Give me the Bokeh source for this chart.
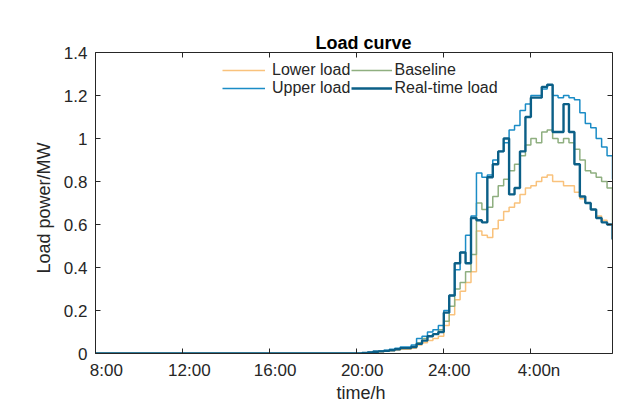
import numpy as np
from bokeh.plotting import figure
from bokeh.models import FixedTicker, LinearAxis, Legend, LegendItem, Range1d, Title
from bokeh.embed import file_html
from bokeh.resources import INLINE

# time in hours (15-minute samples starting 8:00)
hours = 8 + 0.25 * np.arange(96)

zeros48 = [0.0] * 48
lower_load = zeros48 + [
    0.0, 0.002, 0.004, 0.006, 0.008, 0.01, 0.013, 0.016,
    0.02, 0.02, 0.025, 0.04, 0.05, 0.06, 0.07, 0.08,
    0.13, 0.18, 0.25, 0.29, 0.33, 0.38, 0.57, 0.55,
    0.54, 0.58, 0.62, 0.66, 0.68, 0.70, 0.74, 0.77,
    0.78, 0.80, 0.82, 0.83, 0.80, 0.80, 0.78, 0.78,
    0.75, 0.72, 0.70, 0.67, 0.64, 0.62, 0.60, 0.53]
baseline = zeros48 + [
    0.0, 0.002, 0.005, 0.007, 0.01, 0.012, 0.016, 0.02,
    0.025, 0.025, 0.03, 0.05, 0.07, 0.08, 0.09, 0.11,
    0.15, 0.22, 0.30, 0.33, 0.38, 0.46, 0.70, 0.67,
    0.68, 0.73, 0.78, 0.81, 0.85, 0.88, 0.92, 0.97,
    1.00, 0.98, 1.03, 1.04, 1.00, 0.98, 1.00, 0.98,
    0.95, 0.90, 0.85, 0.84, 0.82, 0.80, 0.77, 0.60]
upper_load = zeros48 + [
    0.0, 0.003, 0.006, 0.01, 0.012, 0.015, 0.02, 0.025,
    0.03, 0.03, 0.04, 0.07, 0.08, 0.10, 0.11, 0.13,
    0.20, 0.27, 0.39, 0.47, 0.55, 0.64, 0.84, 0.82,
    0.83, 0.90, 0.94, 0.98, 1.04, 1.06, 1.13, 1.16,
    1.20, 1.20, 1.23, 1.25, 1.20, 1.19, 1.20, 1.19,
    1.18, 1.12, 1.07, 1.05, 1.00, 0.96, 0.92, 0.81]
realtime_load = zeros48 + [
    0.0, 0.003, 0.005, 0.008, 0.01, 0.012, 0.015, 0.02,
    0.025, 0.025, 0.03, 0.045, 0.06, 0.08, 0.09, 0.10,
    0.19, 0.27, 0.42, 0.47, 0.42, 0.63, 0.62, 0.61,
    0.82, 0.88, 0.94, 1.00, 0.74, 0.77, 0.94, 1.10,
    1.19, 1.19, 1.24, 1.25, 1.03, 1.03, 1.16, 1.03,
    0.88, 0.73, 0.70, 0.67, 0.63, 0.61, 0.60, 0.53]

x_ticks = [8, 12, 16, 20, 24, 28]
x_tick_labels = ["8:00", "12:00", "16:00", "20:00", "24:00", "4:00n"]
y_ticks = [0, 0.2, 0.4, 0.6, 0.8, 1.0, 1.2, 1.4]
y_tick_labels = ["0", "0.2", "0.4", "0.6", "0.8", "1", "1.2", "1.4"]

series_names = ["Lower load", "Baseline", "Upper load", "Real-time load"]
series_colors = ["#F9C27C", "#8FAF80", "#1B8CC6", "#0B5F87"]
series_widths = [1.5, 1.5, 1.5, 2.4]

# layout: horizontal nudge of x tick labels (hours), as in the reference
x_label_nudge = [0.5, 0.3125, 0.25, 0.25, 0.25, 0.375]

FONT = "Liberation Sans"
AX = "#262626"

p = figure(width=641, height=403, output_backend="svg", toolbar_location=None,
           x_range=Range1d(hours[0], hours[-1]), y_range=Range1d(0, 1.4),
           min_border_left=95, min_border_right=29, min_border_top=52,
           min_border_bottom=50)
p.grid.visible = False
p.outline_line_color = None
p.background_fill_color = "white"
p.border_fill_color = "white"

renderers = []
for vals, col, w in zip([lower_load, baseline, upper_load, realtime_load],
                        series_colors, series_widths):
    r = p.step(hours, vals, mode="after", line_color=col, line_width=w)
    renderers.append(r)


def style_axis(ax, ticks, show_labels):
    ax.ticker = FixedTicker(ticks=ticks)
    ax.axis_line_color = AX
    ax.major_tick_line_color = AX
    ax.major_tick_in = 5
    ax.major_tick_out = 0
    ax.minor_tick_line_color = None
    ax.major_label_text_font = FONT
    ax.major_label_text_font_size = "17px"
    ax.major_label_text_color = AX
    if not show_labels:
        ax.major_label_text_color = None
        ax.major_label_standoff = 0


xa = p.xaxis[0]
style_axis(xa, x_ticks, False)

# tick labels drawn by a second, line-less axis
label_pos = [t + d for t, d in zip(x_ticks, x_label_nudge)]
xl = LinearAxis()
xl.ticker = FixedTicker(ticks=label_pos)
xl.axis_line_color = None
xl.major_tick_line_color = None
xl.minor_tick_line_color = None
xl.major_tick_in = 0
xl.major_tick_out = 0
xl.major_label_text_font = FONT
xl.major_label_text_font_size = "17px"
xl.major_label_text_color = AX
xl.major_label_overrides = {t: l for t, l in zip(label_pos, x_tick_labels)}
xl.major_label_standoff = 7
p.add_layout(xl, "below")

xt = Title(text="time/h", align="left", offset=241, text_font=FONT,
           text_font_size="18px", text_font_style="normal", text_color=AX,
           standoff=-3)
p.add_layout(xt, "below")

ya = p.yaxis[0]
style_axis(ya, y_ticks, True)
ya.major_label_overrides = {t: l for t, l in zip(y_ticks, y_tick_labels)}
ya.major_label_standoff = 8

yt = Title(text="Load power/MW", align="left", offset=80, text_font=FONT,
           text_font_size="18px", text_font_style="normal", text_color=AX,
           standoff=13)
p.add_layout(yt, "left")

top = LinearAxis()
style_axis(top, x_ticks, False)
p.add_layout(top, "above")
right = LinearAxis()
style_axis(right, y_ticks, False)
p.add_layout(right, "right")

p.title.text = "Load curve"
p.title.align = "left"
p.title.offset = 220
p.title.standoff = 0
p.title.text_font = FONT
p.title.text_font_size = "18px"
p.title.text_font_style = "bold"
p.title.text_color = "black"

leg1 = Legend(items=[LegendItem(label=series_names[0], renderers=[renderers[0]]),
                     LegendItem(label=series_names[2], renderers=[renderers[2]])],
              location=(127, 256))
leg2 = Legend(items=[LegendItem(label=series_names[1], renderers=[renderers[1]]),
                     LegendItem(label=series_names[3], renderers=[renderers[3]])],
              location=(255.5, 256))
for lg, gw, ls in ((leg1, 43, 7), (leg2, 41, 3)):
    lg.border_line_color = None
    lg.background_fill_alpha = 0
    lg.padding = 0
    lg.margin = 0
    lg.spacing = 0
    lg.glyph_width = gw
    lg.glyph_height = 18
    lg.label_height = 18
    lg.label_standoff = ls
    lg.label_text_font = FONT
    lg.label_text_font_size = "16px"
    lg.label_text_color = AX
    p.add_layout(lg, "center")

open("out.html", "w").write(file_html(p, INLINE))
